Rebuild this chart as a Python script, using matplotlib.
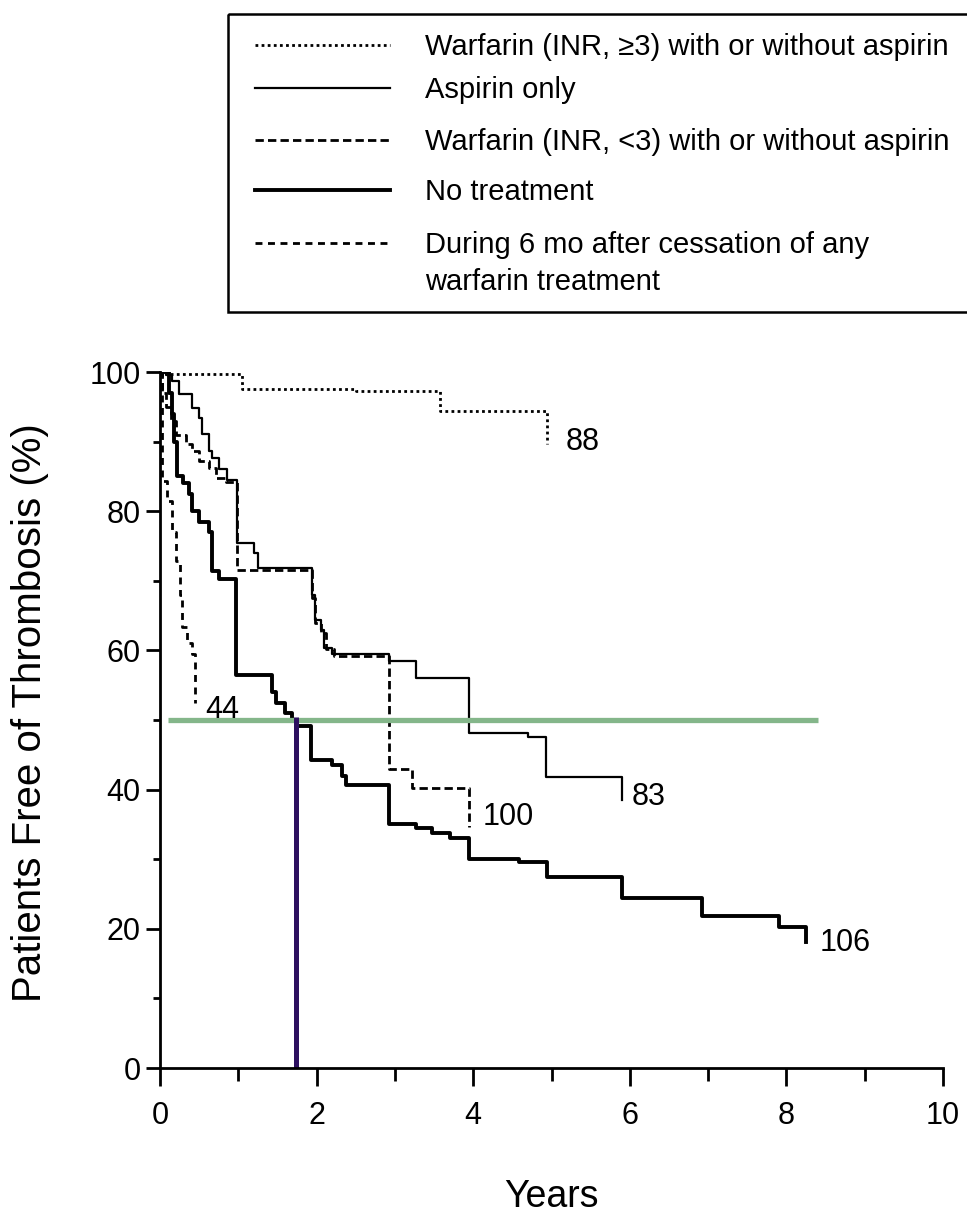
import matplotlib.pyplot as plt
from matplotlib.patches import Rectangle

# Kaplan-Meier curves (years, % free of thrombosis)
warf_hi_t = [0, 0.1, 1.05, 2.5, 3.57, 4.94]
warf_hi_s = [100, 99.7, 97.6, 97.2, 94.4, 89.7]

aspirin_t = [0, 0.08, 0.15, 0.24, 0.41, 0.5, 0.54, 0.63, 0.66, 0.75, 0.85, 0.98, 1.2, 1.25,
             1.94, 1.98, 2.05, 2.1, 2.2, 2.92, 3.27, 3.95, 4.7, 4.93, 5.9]
aspirin_s = [100, 99.5, 98.7, 96.8, 94.8, 93.4, 91.1, 88.7, 87.7, 86, 84.5, 75.5, 74, 71.8,
             68, 64.3, 63, 60.4, 59.5, 58.5, 56.1, 48.1, 47.5, 41.8, 38.5]

warf_lo_t = [0, 0.03, 0.08, 0.14, 0.2, 0.33, 0.41, 0.5, 0.63, 0.71, 0.84, 0.98, 1.94, 1.98,
             2.05, 2.12, 2.22, 2.92, 3.22, 3.95]
warf_lo_s = [100, 97, 95, 93, 91, 89.7, 88.7, 87.2, 86.2, 84.8, 84.2, 71.5, 67.5, 64,
             62.5, 60.2, 59.2, 43, 40.3, 34.6]

notx_t = [0, 0.12, 0.15, 0.18, 0.22, 0.3, 0.37, 0.41, 0.5, 0.63, 0.66, 0.75, 0.97, 1.43, 1.48,
          1.6, 1.69, 1.75, 1.93, 2.2, 2.32, 2.37, 2.92, 3.27, 3.47, 3.7, 3.95, 4.58, 4.94,
          5.9, 6.92, 7.9, 8.25]
notx_s = [100, 97, 94, 90, 85, 84, 82.5, 80, 78.5, 77, 71.4, 70.3, 56.5, 54, 52.4,
          51, 50, 49.2, 44.2, 43.5, 42, 40.6, 35.1, 34.5, 33.7, 33.1, 30.1, 29.6, 27.4,
          24.4, 21.9, 20.2, 18.1]

cess_t = [0, 0.02, 0.03, 0.09, 0.15, 0.2, 0.25, 0.28, 0.35, 0.41, 0.45]
cess_s = [100, 92, 84.4, 81.5, 77, 72.9, 68, 63.3, 61, 59.5, 52.4]

# numbers printed at the end of each curve
end_labels = ["88", "83", "100", "106", "44"]
end_pos = [(5.18, 90.0), (6.02, 38.9), (4.12, 36.0), (8.42, 17.9), (0.58, 51.5)]

legend_labels = [
    "Warfarin (INR, \u22653) with or without aspirin",
    "Aspirin only",
    "Warfarin (INR, <3) with or without aspirin",
    "No treatment",
    "During 6 mo after cessation of any\nwarfarin treatment",
]

median_level = 50
median_time = 1.74

plt.rcParams['font.family'] = ['Liberation Sans', 'DejaVu Sans']

W, H = 967, 1213
fig = plt.figure(figsize=(W / 100, H / 100), dpi=100)
ax = fig.add_axes([160 / W, 1 - 1068 / H, (943 - 160) / W, (1068 - 372) / H])

styles = [
    dict(ls=(0, (1, 1.2)), lw=2.0),
    dict(ls='-', lw=1.6),
    dict(ls=(0, (3, 1.5)), lw=2.0),
    dict(ls='-', lw=2.8),
    dict(ls=(0, (2.5, 2)), lw=2.0),
]
curves = [(warf_hi_t, warf_hi_s), (aspirin_t, aspirin_s), (warf_lo_t, warf_lo_s),
          (notx_t, notx_s), (cess_t, cess_s)]

for (t, s), st in zip(curves, styles):
    ax.plot(t, s, drawstyle='steps-post', color='black', **st)

for txt, (x, y) in zip(end_labels, end_pos):
    ax.text(x, y, txt, fontsize=22, ha='left', va='center')

# median lines
ax.plot([0.1, 8.4], [median_level, median_level], color='#84b68a', lw=3.8, solid_capstyle='butt')
ax.plot([median_time, median_time], [0, median_level + 0.4], color='#2d1060', lw=3.6,
        solid_capstyle='butt')

ax.set_xlim(0, 10)
ax.set_ylim(0, 100)
ax.set_xticks(range(0, 11, 2))
ax.set_xticks(range(1, 11, 2), minor=True)
ax.set_yticks(range(0, 101, 20))
ax.set_yticks(range(10, 100, 20), minor=True)
ax.tick_params(axis='both', which='major', labelsize=22, width=2, direction='out')
ax.tick_params(axis='x', which='major', length=13, pad=11)
ax.tick_params(axis='x', which='minor', length=9, width=2)
ax.tick_params(axis='y', which='major', length=10, pad=4)
ax.tick_params(axis='y', which='minor', length=5, width=2)
for side in ['top', 'right']:
    ax.spines[side].set_visible(False)
for side in ['left', 'bottom']:
    ax.spines[side].set_linewidth(2)

ax.set_xlabel("Years", fontsize=27, labelpad=34)
ax.set_ylabel("Patients Free of Thrombosis (%)", fontsize=29)
ax.yaxis.set_label_coords(-0.142, 0.51)

# legend box, drawn in figure pixels (it runs off the right edge like the original)
lax = fig.add_axes([0, 0, 1, 1])
lax.set_xlim(0, W)
lax.set_ylim(H, 0)
lax.axis('off')
lax.add_patch(Rectangle((228, 14), 760, 298, fill=False, edgecolor='black', lw=1.8))
row_y = [45, 88, 140, 190, 243]
for y, st, lab in zip(row_y, styles, legend_labels):
    lax.plot([255, 390], [y, y], color='black', **st)
    lax.text(425, y - 12, lab, fontsize=21, ha='left', va='top', linespacing=1.4)

fig.savefig('out.png', dpi=100)
